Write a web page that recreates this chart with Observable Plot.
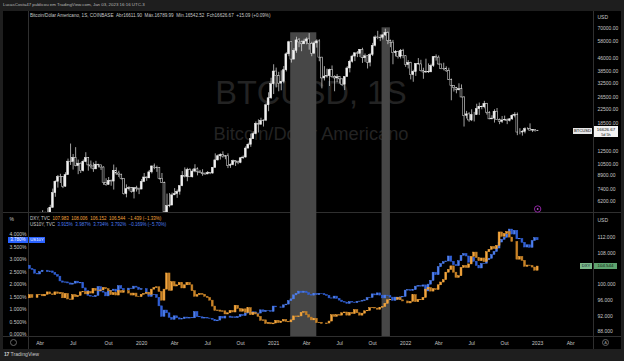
<!DOCTYPE html>
<html><head><meta charset="utf-8">
<script src="https://cdn.jsdelivr.net/npm/d3@7"></script>
<script src="https://cdn.jsdelivr.net/npm/@observablehq/plot@0.6"></script>
<style>
html,body{margin:0;padding:0;background:#1e1e1e;}
#root{position:relative;width:624px;height:361px;overflow:hidden;background:#1e1e1e;font-family:"Liberation Sans",Arial,sans-serif;color:#c8c8c8;}
#chart{position:absolute;left:3px;top:11px;width:618px;height:338px;background:#000;}
.ln{position:absolute;background:#2f2f2f;}
.t{position:absolute;white-space:nowrap;line-height:1;}
.pane{position:absolute;left:0;}
.box{position:absolute;white-space:nowrap;line-height:1;text-align:center;box-sizing:border-box;}
</style></head>
<body><div id="root">
<div id="chart"></div>
<div class="ln" style="left:28px;top:11px;width:1px;height:338px"></div>
<div class="ln" style="left:593px;top:11px;width:1px;height:338px"></div>
<div class="ln" style="left:3px;top:212px;width:618px;height:1px"></div>
<div class="ln" style="left:3px;top:336px;width:618px;height:1px"></div>
</div>
<script>
// ---------- DATA ----------
const weekStart = "2019-02-25"; // first weekly candle (Monday)
const btcOpen0 = 3820, btcLastOpen = 16611.90;
const btcClose = [
3860,3920,4000,3990,4100,5050,5050,5290,5230,5700,7000,8200,8750,8730,7650,8990,10850,10800,11450,10200,10550,9500,10800,11400,10300,10150,9750,10400,10300,10000,8050,7850,8280,8220,9550,9200,9050,8500,6900,7400,7500,7100,7500,7380,7350,
8180,8700,8600,9350,10150,9900,9950,8550,8050,5350,5830,5880,6780,6900,7120,7700,8900,8750,9670,8720,9450,9750,9350,9300,9100,9080,9250,9200,9950,11050,11700,11900,11650,11700,10250,10330,10930,10780,10670,11380,11500,13030,13750,14850,15950,18400,18200,19150,19250,23850,26300,32000,
38200,35800,32250,33100,38900,48600,57500,45150,51000,59000,57400,55900,58100,59800,56200,49000,56600,58200,46400,34700,35600,35800,39000,35500,34700,35300,34250,31800,35400,39900,43800,47100,49300,48900,51800,46000,47300,43200,48200,54700,61500,60900,61300,63300,65500,58600,57200,49400,50100,46700,50800,47300,
41800,43100,36300,37900,42400,42200,38400,37700,38000,37800,41300,46800,46400,42150,39700,39500,38500,34000,31300,30300,29400,29900,26600,20600,21000,19300,20800,20800,22600,23300,23200,24300,21500,19600,19800,21800,19400,18900,19300,19400,19200,19600,20600,20900,16300,16300,16450,17100,17100,16750,16850,16600,
16626.67];
const btcHigh = [
3900,3950,4050,4100,4150,5350,5470,5360,5650,5900,7400,8300,8950,9100,8800,9300,11250,13880,12000,13200,11100,10650,11100,12300,11500,10950,10650,10900,10450,10350,10100,8550,8700,8400,10350,9950,9500,9100,8500,7850,7650,7550,7550,7700,7500,
8450,9200,8750,9600,10200,10500,10200,10000,9200,8150,6900,6950,7000,7450,7300,7750,9450,9950,9900,9850,9750,10400,9950,9600,9700,9300,9450,9300,10000,12100,11900,12100,12450,11800,12100,10500,11100,10950,10950,11450,11750,13350,14050,15950,16450,18900,19450,19900,19450,24300,28400,34800,
42000,40100,37800,38600,41000,49700,58300,57600,52600,61700,60600,58400,60000,61200,64900,57500,58000,59500,59600,46600,40900,39500,39500,41300,36000,36600,35400,34600,35500,40900,44700,48000,49400,50500,51900,52900,48800,47400,49200,56600,62900,67000,63700,63900,69000,66400,59300,59000,51200,50600,52000,52100,
47600,44500,43500,38900,42600,45800,44700,40000,45400,42500,42300,46900,48200,47500,42400,42900,40800,40000,34400,31400,30600,32200,31700,26900,21900,21500,22400,21600,24200,24600,23600,25200,24500,21800,20600,22400,22800,19700,20400,20500,19700,19800,21000,21500,21400,17200,16800,17400,17400,18400,17000,16950,
16789.99];
const btcLow = [
3780,3700,3840,3900,3950,4080,4930,4980,5050,5140,5660,6600,7500,8000,7450,7600,8970,10300,9650,10100,9050,9200,9400,10700,9500,9800,9350,9700,9950,9600,7800,7700,7800,7700,7300,8950,8700,8400,6800,6550,7200,7000,6450,7100,6850,
7350,8100,8250,8550,9150,9700,9350,8400,8000,3850,4900,5700,5860,6760,6500,6800,7650,8650,8200,8700,8650,9300,8900,9200,8850,8950,9050,9050,9100,9900,10950,11100,11400,11150,9850,9880,10250,10150,10400,10550,11200,11400,12950,13250,14850,15800,16200,18000,17600,19000,21800,25900,
27700,30400,28800,29200,32200,38000,47000,43000,45000,49300,53300,50400,55800,55500,51500,47000,48800,53000,43800,30000,33500,34800,31000,34800,28800,32700,32100,31100,29300,35200,37500,43000,43900,46400,46500,42800,43400,39600,40800,47100,53900,59600,58000,59400,62300,55600,53300,42000,46900,45500,45500,45700,
40500,39600,34000,32900,35700,41800,38000,34300,37200,37200,37600,40500,44200,41900,39200,38600,37700,33700,25400,28700,28000,29200,26500,17600,19700,18800,19000,18900,20700,20700,22400,22700,20800,19500,19500,18600,19300,18200,18500,19200,18200,18900,19300,20000,15600,15800,15500,16000,16900,16600,16300,16400,
16542.52];
const dxyOpen0 = 96.4;
const dxyClose = [
96.5,97.3,96.6,96.6,97.3,97.4,97.0,97.4,98.0,97.5,97.3,98.0,97.6,97.8,96.5,97.6,96.2,96.1,97.3,96.8,97.1,98.0,98.1,97.5,98.1,97.7,98.9,98.4,98.3,98.5,99.1,98.8,98.3,97.3,97.8,97.2,98.3,97.9,98.3,98.3,97.7,97.2,97.7,96.9,96.8,
97.4,97.6,97.9,97.4,98.7,99.1,99.3,98.1,95.9,98.7,102.8,98.4,100.6,99.5,99.8,100.4,99.0,99.8,100.4,99.8,98.3,96.9,97.3,97.6,97.4,96.9,96.6,95.9,94.4,93.3,93.4,93.1,93.2,92.4,92.7,93.3,92.9,94.6,93.8,93.1,93.7,92.8,94.0,92.2,92.8,92.4,91.8,90.8,90.9,90.0,90.2,89.9,
90.1,90.8,90.2,90.6,91.0,90.5,90.4,90.9,91.9,91.7,91.9,92.8,93.0,92.2,91.6,90.9,91.3,90.2,90.3,90.0,90.0,90.1,90.6,92.2,91.8,92.2,92.1,92.7,92.9,92.1,92.8,92.5,93.5,92.7,92.1,92.6,93.2,93.3,94.0,94.1,93.9,93.6,94.1,94.3,95.1,96.0,96.1,96.1,96.1,96.6,96.0,95.7,
95.7,95.2,95.6,97.3,95.5,96.1,96.0,96.6,98.7,99.1,98.2,98.8,98.6,99.8,100.5,101.1,103.0,103.7,104.6,103.0,101.7,102.1,104.2,104.7,104.2,105.1,107.0,108.1,106.7,105.9,106.6,105.7,108.2,108.8,109.5,109.0,109.8,113.2,112.1,112.8,113.3,111.9,110.8,110.8,106.3,107.0,106.0,104.5,104.8,104.7,104.3,103.5,
104.544];
const usOpen0 = 2.72;
const usClose = [
2.76,2.63,2.59,2.44,2.41,2.50,2.56,2.56,2.50,2.53,2.47,2.39,2.32,2.13,2.08,2.09,2.05,2.00,2.04,2.12,2.05,2.07,1.85,1.74,1.55,1.52,1.50,1.55,1.90,1.72,1.68,1.53,1.73,1.75,1.80,1.71,1.94,1.83,1.77,1.77,1.84,1.82,1.92,1.88,1.79,
1.82,1.82,1.68,1.51,1.58,1.59,1.47,1.13,0.71,0.96,0.85,0.67,0.59,0.73,0.65,0.60,0.62,0.68,0.64,0.66,0.65,0.90,0.70,0.69,0.64,0.67,0.64,0.63,0.59,0.53,0.56,0.71,0.64,0.72,0.72,0.67,0.69,0.66,0.70,0.78,0.74,0.84,0.87,0.82,0.89,0.83,0.84,0.97,0.90,0.95,0.94,0.91,
1.12,1.09,1.09,1.07,1.17,1.20,1.34,1.41,1.57,1.63,1.72,1.67,1.72,1.66,1.58,1.56,1.63,1.58,1.63,1.62,1.58,1.55,1.45,1.44,1.52,1.43,1.36,1.30,1.28,1.23,1.30,1.28,1.26,1.31,1.32,1.34,1.37,1.46,1.47,1.61,1.57,1.65,1.56,1.45,1.56,1.54,1.48,1.35,1.48,1.40,1.49,1.51,
1.76,1.78,1.75,1.78,1.92,1.94,1.92,1.97,1.73,2.00,2.15,2.48,2.38,2.70,2.83,2.90,2.93,3.13,2.92,2.78,2.74,2.94,3.16,3.23,3.13,2.88,3.08,2.92,2.75,2.65,2.83,2.84,2.98,3.04,3.19,3.31,3.45,3.69,3.80,3.88,4.01,4.21,4.01,4.16,3.82,3.83,3.68,3.49,3.58,3.48,3.75,3.87,
3.78];
const btcTicks = [70000,58000,46000,38500,32500,26500,22500,18500,12500,10500,8900,7400,6200];
const usTicks = [4,3.5,3,2.5,2,1.5,1,0.5,0];
const dxyTicks = [112,108,100,96,92,88];
const xTickDates = ["2019-04-01","2019-07-01","2019-10-07","2020-01-06","2020-04-06","2020-07-06","2020-10-05","2021-01-04","2021-04-05","2021-07-05","2021-10-04","2022-01-03","2022-04-04","2022-07-04","2022-10-03","2023-01-02","2023-04-03"];
const xTickLabels = ["Abr","Jul","Out","2020","Abr","Jul","Out","2021","Abr","Jul","Out","2022","Abr","Jul","Out","2023","Abr"];
const bandStart = ["2021-02-20","2021-10-30"];
const bandEnd = ["2021-05-03","2021-11-22"];
const bandTop = [65650, 70390];
const xDomain = ["2019-02-28","2023-06-05"];
const btcDomain = [5336, 88370];
const usDomain = [-0.08, 4.895];
const dxyDomain = [86.809, 118.265];
const lastBtc = 16626.67, lastUs = 3.78, lastDxy = 104.544;

// ---------- BUILD ----------
const FONT = '"Liberation Sans", Arial, sans-serif';
const weeks = btcClose.map((_, i) => d3.utcDay.offset(new Date(weekStart), 7 * i));
function candles(closes, highs, lows, open0, lastOpen) {
  return closes.map((c, i) => {
    let o = i === 0 ? open0 : closes[i - 1];
    if (i === closes.length - 1 && lastOpen != null) o = lastOpen;
    return {date: weeks[i], open: o, close: c,
      high: highs ? highs[i] : Math.max(o, c), low: lows ? lows[i] : Math.min(o, c)};
  });
}
const btc = candles(btcClose, btcHigh, btcLow, btcOpen0, btcLastOpen);
const dxy = candles(dxyClose, null, null, dxyOpen0);
const us = candles(usClose, null, null, usOpen0);
const bands = bandStart.map((s, i) => ({start: new Date(s), end: new Date(bandEnd[i]), top: bandTop[i]}));
const xTicks = xTickDates.map((d, i) => ({date: new Date(d), label: xTickLabels[i]}));
const xd = xDomain.map(d => new Date(d));
const hw = 2.6 * 864e5;
const bx1 = d => new Date(+d.date - hw), bx2 = d => new Date(+d.date + hw);
const style = {background: "transparent", color: "#c8c8c8", fontFamily: FONT, fontSize: "5px", overflow: "visible"};
const BAND = "#474747";
const TXT = "#c8c8c8";

// y-axis labels drawn as text through the y scale
const rightLabels = (ticks, fmt) => Plot.text(ticks, {y: d => d, text: fmt, frameAnchor: "right", dx: 4, textAnchor: "start", fontSize: 5, fill: TXT});
const leftLabels = (ticks, fmt) => Plot.text(ticks, {y: d => d, text: fmt, frameAnchor: "left", dx: -2, textAnchor: "end", fontSize: 5, fill: TXT});

const pTop = Plot.plot({
  width: 624, height: 201, marginLeft: 28, marginRight: 31, marginTop: 0, marginBottom: 0,
  style, color: {type: "identity"},
  x: {type: "utc", domain: xd, axis: null},
  y: {type: "log", domain: btcDomain, axis: null},
  marks: [
    Plot.text(["BTCUSD, 1S"], {frameAnchor: "top", dy: 82, lineAnchor: "middle", fontSize: 32.5, fill: "#232323"}),
    Plot.text(["Bitcoin/Dólar Americano"], {frameAnchor: "top", dy: 122.5, lineAnchor: "middle", fontSize: 18.3, fill: "#232323"}),
    Plot.rect(bands, {x1: "start", x2: "end", y1: () => btcDomain[0], y2: "top", fill: BAND, clip: true}),
    Plot.ruleX(btc, {x: "date", y1: "low", y2: "high", stroke: "#e6e6e6", strokeWidth: 0.7, clip: true}),
    Plot.rect(btc, {x1: bx1, x2: bx2, y1: "open", y2: "close",
      fill: d => d.close >= d.open ? "#f2f2f2" : "#000", stroke: "#ececec", strokeWidth: 0.5, clip: true}),
    rightLabels(btcTicks, d => d.toFixed(2)),
    Plot.text(["USD"], {frameAnchor: "top-right", dx: 4, dy: 4, textAnchor: "start", fontSize: 5, fill: TXT}),
    Plot.dot([weeks[weeks.length - 1]], {x: d => d, frameAnchor: "bottom", dy: -3.5, r: 3.2, stroke: "#9c27b0", fill: "#000", strokeWidth: 0.9}),
    Plot.dot([weeks[weeks.length - 1]], {x: d => d, frameAnchor: "bottom", dy: -3.5, r: 0.9, fill: "#b04fc8"})
  ]
});
const pUS = Plot.plot({
  width: 624, height: 137, marginLeft: 28, marginRight: 31, marginTop: 0, marginBottom: 13,
  style, color: {type: "identity"},
  x: {type: "utc", domain: xd, axis: null},
  y: {domain: usDomain, axis: null},
  marks: [
    Plot.rect(bands, {x1: "start", x2: "end", fill: BAND}),
    Plot.rect(us, {x1: bx1, x2: bx2, y1: "open", y2: "close",
      fill: d => d.close >= d.open ? "#4d7ff0" : "#3160d6", stroke: d => d.close >= d.open ? "#4d7ff0" : "#3160d6", strokeWidth: 0.5, clip: true}),
    leftLabels(usTicks, d => d.toFixed(3) + "%"),
    Plot.text(["%"], {frameAnchor: "top-left", dx: -19, dy: 5, fontSize: 5, fill: TXT}),
    Plot.text(xTicks, {x: "date", text: "label", frameAnchor: "bottom", dy: 7, lineAnchor: "middle", fontSize: 5, fill: TXT})
  ]
});
const pDXY = Plot.plot({
  width: 624, height: 137, marginLeft: 28, marginRight: 31, marginTop: 0, marginBottom: 13,
  style, color: {type: "identity"},
  x: {type: "utc", domain: xd, axis: null},
  y: {domain: dxyDomain, axis: null},
  marks: [
    Plot.rect(dxy, {x1: bx1, x2: bx2, y1: "open", y2: "close",
      fill: d => d.close >= d.open ? "#f4a53c" : "#c98327", stroke: d => d.close >= d.open ? "#f4a53c" : "#c98327", strokeWidth: 0.5, clip: true}),
    rightLabels(dxyTicks, d => d.toFixed(3)),
    Plot.text(["USD"], {frameAnchor: "top-right", dx: 4, dy: 6, textAnchor: "start", fontSize: 5, fill: TXT})
  ]
});

const root = document.getElementById("root");
function place(svg, top) {
  const w = document.createElement("div");
  w.className = "pane"; w.style.top = top + "px";
  w.appendChild(svg); root.appendChild(w);
}
place(pTop, 11); place(pUS, 212); place(pDXY, 212);

function html(tag, css, inner) {
  const e = document.createElement("div");
  e.className = tag; e.style.cssText = css; e.innerHTML = inner; root.appendChild(e); return e;
}
// header & legends
html("t", "left:3px;top:3px;font-size:4.4px;color:#b8b8b8", "LucasCosta47 publicou em TradingView.com, Jan 03, 2023 16:16 UTC-3");
html("t", "left:30px;top:13.6px;font-size:4.6px;color:#c8c8c8",
  "Bitcoin/Dólar Americano, 1S, COINBASE&nbsp;&nbsp;Abr16611.90&nbsp;&nbsp;Máx.16789.99&nbsp;&nbsp;Mín.16542.52&nbsp;&nbsp;Fch16626.67&nbsp;&nbsp;+15.09 (+0.09%)");
html("t", "left:30px;top:216.7px;font-size:4.5px;color:#c8c8c8",
  "DXY, TVC&nbsp;&nbsp;<span style='color:#f4a53c'>107.983&nbsp;&nbsp;108.006&nbsp;&nbsp;106.152&nbsp;&nbsp;106.544&nbsp;&nbsp;−1.439 (−1.33%)</span>");
html("t", "left:30px;top:222.7px;font-size:4.5px;color:#c8c8c8",
  "US10Y, TVC&nbsp;&nbsp;<span style='color:#4d7ff0'>3.915%&nbsp;&nbsp;3.987%&nbsp;&nbsp;3.734%&nbsp;&nbsp;3.792%&nbsp;&nbsp;−0.169% (−5.70%)</span>");
// last-value labels positioned through the scales
const yb = 11 + pTop.scale("y").apply(lastBtc);
html("box", `left:573px;top:${yb - 3}px;width:19px;height:6px;background:#e6e6e6;color:#111;font-size:4.2px;padding-top:0.9px`, "BTCUSD");
html("box", `left:594px;top:${yb - 4.5}px;width:24px;height:11px;background:#f2f2f2;color:#111;font-size:4.4px;padding-top:1.2px;line-height:1.15`, "16626.67<br><span style='font-size:3.8px'>5d 5h</span>");
const yu = 212 + pUS.scale("y").apply(lastUs);
html("box", `left:8px;top:${yu - 3}px;width:20px;height:6px;background:#2962ff;color:#fff;font-size:4.5px;padding-top:0.8px`, "3.780%");
html("box", `left:29px;top:${yu - 3}px;width:16px;height:6px;background:#2962ff;color:#fff;font-size:4.3px;padding-top:0.8px`, "US10Y");
const yd = 212 + pDXY.scale("y").apply(lastDxy);
html("box", `left:580px;top:${yd - 3}px;width:12px;height:6px;background:#7bb98a;color:#123;font-size:4.2px;padding-top:0.9px`, "DXY");
html("box", `left:594px;top:${yd - 3}px;width:23px;height:6px;background:#5ea36f;color:#102010;font-size:4.4px;padding-top:0.8px`, "104.544");
// small UI icons and footer
html("box", "left:10px;top:339px;width:7px;height:7px;border:0.7px solid #666;border-radius:50%;", "");
html("box", "left:602px;top:339px;width:7px;height:7px;border:0.7px solid #666;border-radius:50%;color:#999;font-size:4px;padding-top:1px", "A");
html("t", "left:4px;top:352px;font-size:5.2px;color:#c8c8c8", "<b style='letter-spacing:-0.3px'>17</b> TradingView");
</script>
</body></html>
